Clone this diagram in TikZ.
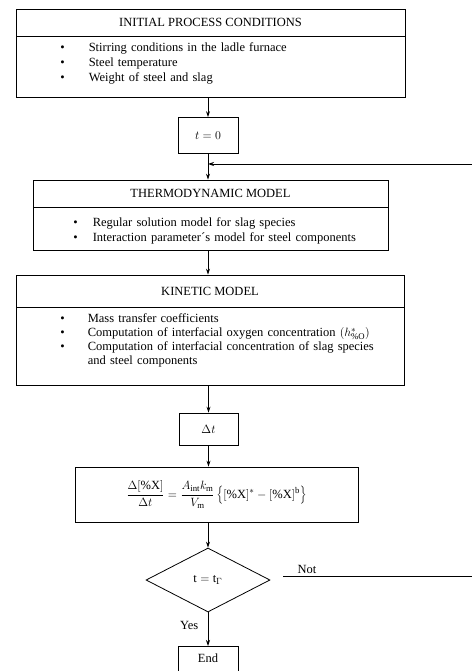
\documentclass[tikz,border=0pt]{standalone}
\usepackage{fontspec}
\setmainfont{Liberation Serif}
\usetikzlibrary{shapes.geometric,arrows.meta}

% bullet line: bullet indent, text indent, text
\newcommand{\bitem}[3]{\makebox[#2][l]{\hspace*{#1}\textbullet}#3}

\begin{document}
\begin{tikzpicture}[x=1pt,y=-1pt,
    font=\fontsize{12.5}{15}\selectfont,
    box/.style={draw, line width=0.8pt, inner sep=0pt},
    listtext/.style={inner sep=0pt, align=left, text width=420pt, anchor=north west},
    decision/.style={draw, line width=0.8pt, diamond, aspect=2, inner sep=0pt},
    flow/.style={line width=0.8pt, -{Stealth[length=6pt,width=4pt]}}
]
    \useasboundingbox (0,0) rectangle (471,671);

    % Initial process conditions
    \node[box, minimum width=389, minimum height=27] (initT) at (210.5,22.5) {INITIAL PROCESS CONDITIONS};
    \node[box, minimum width=389, minimum height=61, anchor=north] (initB) at (initT.south) {};
    \node[listtext] (initL) at ([shift={(0,6)}]initB.north west) {%
        \bitem{44.5pt}{73pt}{Stirring conditions in the ladle furnace}\\
        \bitem{44.5pt}{73pt}{Steel temperature}\\
        \bitem{44.5pt}{73pt}{Weight of steel and slag}};

    % Start time
    \node[box, minimum width=60, minimum height=36] (t0) at (208,135.5) {$t=0$};

    % Thermodynamic model
    \node[box, minimum width=355, minimum height=27] (thermoT) at (210.5,193.5) {THERMODYNAMIC MODEL};
    \node[box, minimum width=355, minimum height=43, anchor=north] (thermoB) at (thermoT.south) {};
    \node[listtext] (thermoL) at ([shift={(0,10)}]thermoB.north west) {%
        \bitem{40.5pt}{60pt}{Regular solution model for slag species}\\
        \bitem{40.5pt}{60pt}{Interaction parameter´s model for steel components}};

    % Kinetic model
    \node[box, minimum width=388, minimum height=32] (kinT) at (210,291) {KINETIC MODEL};
    \node[box, minimum width=388, minimum height=78, anchor=north] (kinB) at (kinT.south) {};
    \node[listtext, font=\fontsize{12.5}{14}\selectfont] (kinL) at ([shift={(0,6)}]kinB.north west) {%
        \bitem{44.5pt}{72pt}{Mass transfer coefficients}\\
        \bitem{44.5pt}{72pt}{Computation of interfacial oxygen concentration $(h^{*}_{\%\mathrm{O}})$}\\
        \bitem{44.5pt}{72pt}{Computation of interfacial concentration of slag species}\\
        \hspace*{72pt}and steel components};

    % Time step and rate equation
    \node[box, minimum width=59, minimum height=32] (dt) at (208.5,429) {$\Delta t$};
    \node[box, minimum width=283, minimum height=55] (rate) at (216.5,494.5)
        {$\displaystyle \frac{\Delta[\%\mathrm{X}]}{\Delta t}=\frac{A_{\mathrm{int}}k_{\mathrm{m}}}{V_{\mathrm{m}}}\left\{[\%\mathrm{X}]^{*}-[\%\mathrm{X}]^{\mathrm{b}}\right\}$};

    % Decision and end
    \node[decision, minimum width=124, minimum height=64] (check) at (208,580) {$\mathrm{t}=\mathrm{t}_{\Gamma}$};
    \node[box, minimum width=60, text height=16pt, text depth=22pt, anchor=north] (stop) at (208,646) {End};

    % Loop-back points, just off the right edge
    \coordinate (loopB) at (474,576);
    \coordinate (loopA) at (474,164);
    \coordinate (merge) at (t0.south |- loopA);

    % Main flow
    \draw[flow] (initB.south -| t0.north) -- (t0.north);
    \draw[flow] (t0.south) -- (thermoT.north -| t0.south);
    \draw[flow] (thermoB.south -| t0.south) -- (kinT.north -| t0.south);
    \draw[flow] (kinB.south -| dt.north) -- (dt.north);
    \draw[flow] (dt.south) -- (rate.north -| dt.south);
    \draw[flow] (rate.south -| check.north) -- (check.north);
    \draw[flow] (check.south) -- (stop.north) node[pos=0.4, left=6pt] {Yes};

    % Not: back to the thermodynamic model
    \draw[flow] ([xshift=13pt]check.east |- loopB) -- (loopB) -- (loopA) -- (merge);
    \node (notlbl) at (307,569) {Not};
\end{tikzpicture}
\end{document}
